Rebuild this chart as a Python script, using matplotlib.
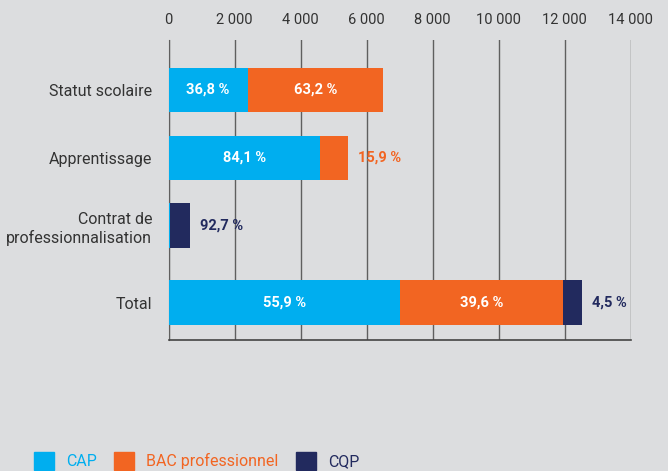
import matplotlib.pyplot as plt
from matplotlib.patches import Patch

plt.rcParams['font.family'] = ['Roboto', 'DejaVu Sans']

categories = ["Statut scolaire", "Apprentissage", "Contrat de\nprofessionnalisation", "Total"]
series = ["CAP", "BAC professionnel", "CQP"]
cap = [2390, 4580, 50, 7000]
bac = [4110, 865, 0, 4960]
cqp = [0, 0, 600, 560]
# percentage labels: (series index, text)
labels = [
    [(0, "36,8 %"), (1, "63,2 %")],
    [(0, "84,1 %"), (1, "15,9 %")],
    [(2, "92,7 %")],
    [(0, "55,9 %"), (1, "39,6 %"), (2, "4,5 %")],
]
xticks = [0, 2000, 4000, 6000, 8000, 10000, 12000, 14000]

colors = ["#00AEEF", "#F26522", "#222A5E"]
bg = "#DCDDDF"
ypos = [0, 1, 2, 3.13]
h = 0.66

fig = plt.figure(figsize=(6.68, 4.71), dpi=100, facecolor=bg)
ax = fig.add_axes([0.2526, 0.278, 0.6915, 0.637], facecolor=bg)

vals = [cap, bac, cqp]
lefts = [0] * len(categories)
for s, v in enumerate(vals):
    ax.barh(ypos, v, left=lefts, height=h, color=colors[s], zorder=3)
    lefts = [l + x for l, x in zip(lefts, v)]

for i, row in enumerate(labels):
    total = cap[i] + bac[i] + cqp[i]
    for s, txt in row:
        start = sum(vals[k][i] for k in range(s))
        width = vals[s][i]
        if width > 1500:
            ax.text(start + width / 2, ypos[i], txt, ha="center", va="center",
                    color="white", fontsize=10.5, fontweight="bold", zorder=4)
        else:
            ax.text(total + 300, ypos[i], txt, ha="left", va="center",
                    color=colors[s], fontsize=10.5, fontweight="bold", zorder=4)

ax.set_xlim(0, 14000)
ax.set_ylim(3.68, -0.735)
ax.set_xticks(xticks)
ax.set_xticklabels([f"{t:,}".replace(",", " ") for t in xticks])
ax.xaxis.tick_top()
ax.tick_params(axis="x", length=0, pad=9.5, labelsize=10.5, labelcolor="#333333")
ax.set_yticks(ypos)
ax.set_yticklabels(categories, fontsize=11.5, color="#333333")
ax.tick_params(axis="y", length=0, pad=12)
ax.grid(axis="x", color="#5f5f5f", linewidth=1, zorder=0)
for side in ["top", "right"]:
    ax.spines[side].set_visible(False)
ax.spines["left"].set_color("#5f5f5f")
ax.spines["bottom"].set_color("#444444")
ax.spines["bottom"].set_linewidth(1.2)

handles = [Patch(color=c) for c in colors]
leg = fig.legend(handles, series, loc="lower left", bbox_to_anchor=(26 / 668, -7 / 471),
                 ncol=3, frameon=False, borderpad=0, handlelength=1.25, handleheight=1.4,
                 columnspacing=1.1, handletextpad=0.75, fontsize=11.5)
for t, c in zip(leg.get_texts(), colors):
    t.set_color(c)

fig.savefig("out.png", dpi=100, facecolor=bg)
